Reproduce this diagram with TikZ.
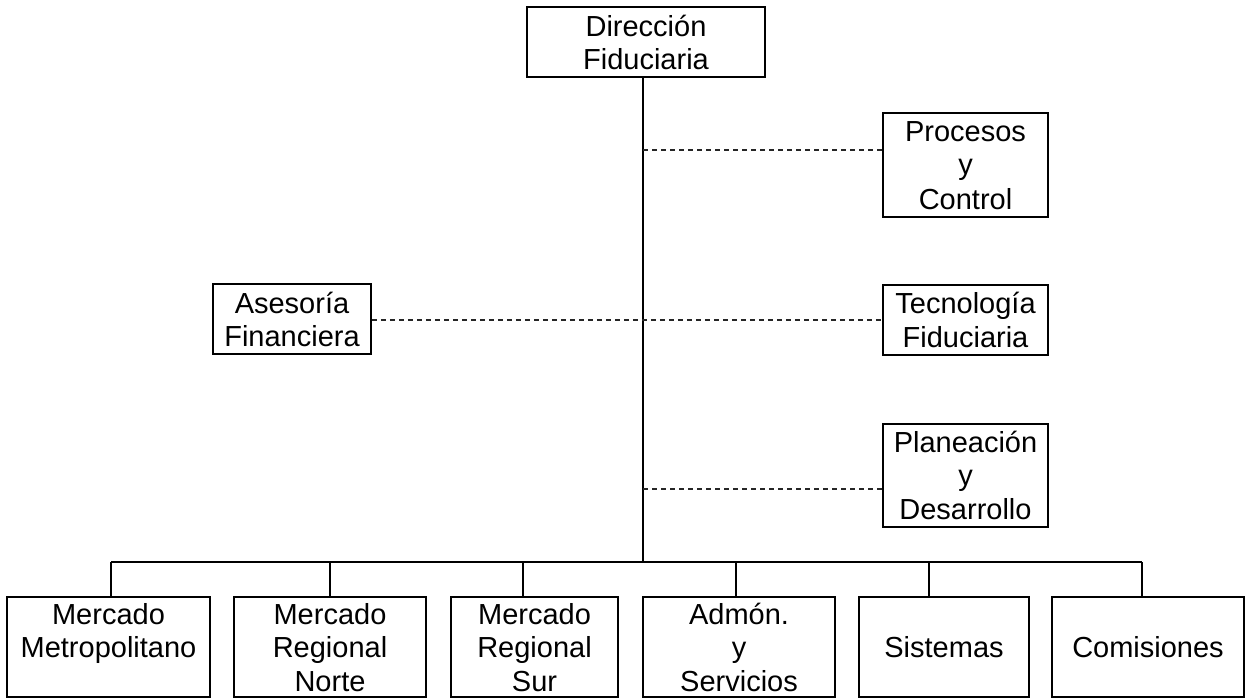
\documentclass[tikz,border=0pt]{standalone}
\usepackage{fontspec}
\setmainfont{Liberation Sans}
\usetikzlibrary{calc}
% line strut: 27pt above the baseline, 6pt below, so that every line is 33pt
\newcommand\lstrut{\rule[-6pt]{0pt}{33pt}}
\begin{document}
\begin{tikzpicture}[x=1pt,y=-1pt,
  box/.style={draw=black, line width=1.7pt, inner sep=0pt, align=center,
    font=\fontsize{29}{33}\selectfont, text=black},
  solidline/.style={draw=black, line width=1.7pt},
  dashline/.style={draw=black!85, line width=1.5pt, dash pattern=on 5pt off 4pt}]
\useasboundingbox (0,0) rectangle (1246,699);

% head of the chart
\node[box, minimum width=238pt, minimum height=70pt] (dir) at (646,42)
  {\lstrut Dirección\\\lstrut Fiduciaria};

% staff units
\node[box, minimum width=165pt, minimum height=104pt] (pc) at (965.5,165)
  {\lstrut Procesos\\\lstrut y\\\lstrut Control};
\node[box, minimum width=158pt, minimum height=70pt] (af) at (292,319)
  {\lstrut Asesoría\\\lstrut Financiera};
\node[box, minimum width=165pt, minimum height=70pt] (tf) at (965.5,320)
  {\lstrut Tecnología\\\lstrut Fiduciaria};
\node[box, minimum width=165pt, minimum height=103pt] (pd) at (965.5,475.5)
  {\lstrut Planeación\\\lstrut y\\\lstrut Desarrollo};

% line units
\node[box, minimum width=203pt, minimum height=100pt] (b1) at (108.5,647)
  {\lstrut Mercado\\\lstrut Metropolitano\\\lstrut};
\node[box, minimum width=192pt, minimum height=100pt] (b2) at (330,647)
  {\lstrut Mercado\\\lstrut Regional\\\lstrut Norte};
\node[box, minimum width=167pt, minimum height=100pt] (b3) at (534.5,647)
  {\lstrut Mercado\\\lstrut Regional\\\lstrut Sur};
\node[box, minimum width=192pt, minimum height=100pt] (b4) at (739,647)
  {\lstrut Admón.\\\lstrut y\\\lstrut Servicios};
\node[box, minimum width=170pt, minimum height=100pt] (b5) at (944,647)
  {\lstrut Sistemas};
\node[box, minimum width=192pt, minimum height=100pt] (b6) at (1148,647)
  {\lstrut Comisiones};

% trunk and staff junctions
\coordinate (bus) at (643,562);
\coordinate (j1) at (643,150);
\coordinate (j2) at (643,320);
\coordinate (j3) at (643,489);
\draw[solidline] (dir.south -| bus) -- (bus);
\draw[dashline] (j1) -- (j1 -| pc.west);
\draw[dashline] (af.east |- j2) -- (j2 -| tf.west);
\draw[dashline] (j3) -- (j3 -| pd.west);

% bus with drops to the line units
\coordinate (d1) at (111,562);
\coordinate (d2) at (330,562);
\coordinate (d3) at (523,562);
\coordinate (d4) at (736,562);
\coordinate (d5) at (929,562);
\coordinate (d6) at (1142,562);
\draw[solidline] (d1) -- (d6);
\draw[solidline] (d1) -- (d1 |- b1.north);
\draw[solidline] (d2) -- (d2 |- b2.north);
\draw[solidline] (d3) -- (d3 |- b3.north);
\draw[solidline] (d4) -- (d4 |- b4.north);
\draw[solidline] (d5) -- (d5 |- b5.north);
\draw[solidline] (d6) -- (d6 |- b6.north);
\end{tikzpicture}
\end{document}
